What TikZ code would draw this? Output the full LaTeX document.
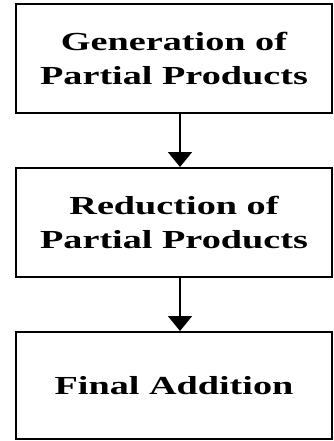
\documentclass[tikz,border=0pt]{standalone}
\usepackage{fontspec}
\setmainfont{Liberation Serif}[FakeStretch=1.47]
\usetikzlibrary{positioning, arrows.meta}

\begin{document}
\begin{tikzpicture}[x=1pt, y=1pt, font=\fontsize{26}{34}\selectfont\bfseries,
    stage/.style={draw, line width=2pt, minimum width=316pt, minimum height=109pt, align=center},
    flow/.style={line width=2pt, -{Triangle[length=15pt, width=24pt]}}]
        \useasboundingbox (0,0) rectangle (333,-441);
        \node[stage] (gen) at (174,-58.5) {Generation of\\Partial Products};
        \node[stage, below=53pt of gen] (red) {Reduction of\\Partial Products};
        \node[stage, below=53pt of red, minimum height=107pt] (fin) {Final Addition};
        \draw[flow] ([xshift=6pt]gen.south) -- ([xshift=6pt]red.north);
        \draw[flow] ([xshift=6pt]red.south) -- ([xshift=6pt]fin.north);
      \end{tikzpicture}
\end{document}
